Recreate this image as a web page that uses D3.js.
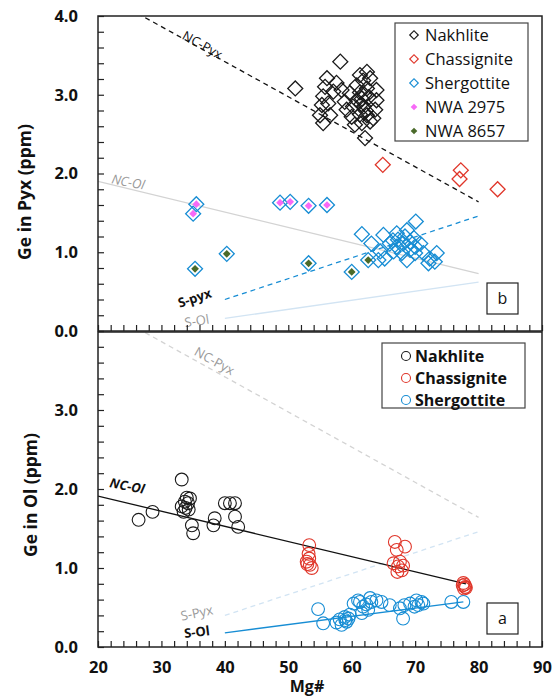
<!DOCTYPE html>
<html><head><meta charset="utf-8">
<script src="https://cdn.jsdelivr.net/npm/d3@7"></script>
<style>
html,body{margin:0;padding:0;background:#fff;}
svg{display:block;font-family:"Open Sans",Lato,sans-serif;}
</style></head>
<body><svg id="chart" width="555" height="696"></svg>
<script>
// ---------- data ----------
const xTickValues = [20,30,40,50,60,70,80,90];
const yTickValuesTop = [0,1,2,3,4];
const yTickValuesBottom = [0,1,2,3];

// Panel b (pyroxene)
const nakhlitePyx = [[58.2,3.42],[51.1,3.08],[56.1,3.21],[57.6,3.15],[55.8,3.10],[55.5,2.98],[56.3,2.89],[55.3,2.87],[55.5,2.64],[56.6,2.74],[55.0,2.74],[57.1,3.04],[58.4,3.06],[58.9,2.91],[59.2,2.81],[59.7,3.02],[60.0,2.72],[60.5,2.62],[62.1,2.45],[61.3,3.25],[62.4,3.29],[62.9,3.21],[63.9,3.06],[63.9,2.93],[63.7,2.81],[63.4,2.70],[61.3,3.03],[61.6,2.95],[61.9,2.85],[61.3,2.75],[60.8,3.12],[60.8,2.93],[60.2,2.85],[62.4,3.08],[62.7,2.97],[62.4,2.74],[62.9,2.66],[61.6,2.64],[61.8,3.18],[62.0,3.00],[61.5,2.88],[62.2,2.80]];
const chassignitePyx = [[64.9,2.11],[77.2,2.04],[77.0,1.93],[83.0,1.80]];
const shergottitePyx = [[61.6,1.23],[70.1,1.39],[63.1,1.11],[65.0,1.22],[67.1,1.24],[68.7,1.28],[66.0,1.11],[67.3,1.16],[68.1,1.11],[69.2,1.13],[70.0,1.07],[70.8,1.11],[64.5,1.01],[65.2,0.92],[64.2,0.90],[66.6,1.01],[67.9,0.99],[68.7,0.90],[71.3,0.99],[72.3,0.92],[73.4,0.99],[72.1,0.86],[73.1,0.88],[69.2,1.03],[70.0,0.99],[67.1,1.07],[68.4,1.20],[66.5,1.15],[69.8,1.18]];
const nwa2975 = [[35.5,1.61],[35.0,1.49],[48.7,1.63],[50.3,1.64],[53.2,1.59],[56.1,1.60]];
const nwa8657 = [[35.3,0.79],[40.3,0.98],[53.2,0.86],[60.0,0.75],[62.6,0.90]];

// Panel a (olivine)
const nakhliteOl = [[26.4,1.61],[28.6,1.71],[33.2,2.12],[33.7,1.84],[33.2,1.78],[33.5,1.71],[34.2,1.82],[34.5,1.88],[34.0,1.89],[33.8,1.76],[34.3,1.74],[34.8,1.54],[35.0,1.44],[38.4,1.63],[38.2,1.54],[40.0,1.82],[40.8,1.82],[41.6,1.82],[41.6,1.65],[42.1,1.52]];
const chassigniteOl = [[53.3,1.29],[53.2,1.18],[53.3,1.12],[52.9,1.08],[53.4,1.04],[53.7,1.00],[53.0,1.05],[66.8,1.33],[68.4,1.27],[67.1,1.23],[66.6,1.06],[67.6,1.08],[67.3,1.02],[67.9,0.97],[67.2,0.95],[68.1,1.03],[77.6,0.81],[77.9,0.76],[77.5,0.78],[77.7,0.74],[78.0,0.75],[77.8,0.79]];
const shergottiteOl = [[54.7,0.48],[55.5,0.30],[57.6,0.31],[58.1,0.35],[58.9,0.38],[59.2,0.32],[59.7,0.41],[58.4,0.28],[59.0,0.34],[59.5,0.36],[60.3,0.55],[61.0,0.59],[61.3,0.57],[61.8,0.51],[62.3,0.54],[62.9,0.62],[63.1,0.57],[62.6,0.47],[61.6,0.43],[63.9,0.59],[64.7,0.57],[66.0,0.53],[67.6,0.49],[68.1,0.36],[68.3,0.53],[69.2,0.55],[70.2,0.59],[70.5,0.53],[71.0,0.57],[71.3,0.55],[69.9,0.51],[75.7,0.57],[77.6,0.57]];

// Trend lines (endpoints)
const ncPyxLine = [[20,4.31],[80,1.64]];
const ncOlLineTop = [[20,1.90],[80,0.73]];
const ncOlLineBottom = [[20,1.91],[78,0.80]];
const sPyxLine = [[40,0.40],[80,1.46]];
const sOlLineTop = [[40,0.16],[80,0.62]];
const sOlLineBottom = [[40,0.18],[77.6,0.57]];

const legendTopLabels = ["Nakhlite","Chassignite","Shergottite","NWA 2975","NWA 8657"];
const legendBottomLabels = ["Nakhlite","Chassignite","Shergottite"];

// ---------- styles ----------
const C = {nak:"#1a1a1a", chas:"#e0362a", sher:"#178dd4", nwa2975:"#f76af7", nwa8657:"#4a6a2a",
           gray:"#d3d3d3", grayText:"#9a9a9a", paleBlue:"#d2e4f3"};

const svg = d3.select("#chart");
const L = 98, R = 542;
const x = d3.scaleLinear().domain([20,90]).range([L,R]);
const yTop = d3.scaleLinear().domain([0,4]).range([331,16]);
const yBot = d3.scaleLinear().domain([0,4]).range([647,331]);

const defs = svg.append("defs");
defs.append("clipPath").attr("id","clipTop").append("rect").attr("x",L).attr("y",16).attr("width",R-L).attr("height",331-16);
defs.append("clipPath").attr("id","clipBot").append("rect").attr("x",L).attr("y",331).attr("width",R-L).attr("height",647-331);

function drawLine(g, y, pts, color, dash, w){
  g.append("path").datum(pts)
    .attr("d", d3.line().x(d=>x(d[0])).y(d=>y(d[1])))
    .attr("fill","none").attr("stroke",color).attr("stroke-width",w||1.3)
    .attr("stroke-dasharray", dash ? "5,4" : null);
}
function label(g, px, py, rot, text, color, opts){
  opts = opts||{};
  g.append("text").attr("transform",`translate(${px},${py}) rotate(${rot})`)
    .attr("text-anchor","middle").attr("dominant-baseline","middle")
    .attr("font-size", opts.size||12).attr("font-weight", opts.bold?"bold":"normal")
    .attr("font-style", opts.italic?"italic":"normal")
    .attr("fill", color).text(text);
}

const diamond = d3.symbol().type(d3.symbolSquare).size(112);
const diamondSmall = d3.symbol().type(d3.symbolSquare).size(30);

// ---------- panel b (top) ----------
const gT = svg.append("g").attr("clip-path","url(#clipTop)");
drawLine(gT, yTop, ncOlLineTop, C.gray, false, 1.3);
drawLine(gT, yTop, sOlLineTop, C.paleBlue, false, 1.3);
drawLine(gT, yTop, ncPyxLine, "#111", true, 1.3);
drawLine(gT, yTop, sPyxLine, C.sher, true, 1.3);

function diamonds(g, data, color){
  g.selectAll(null).data(data).enter().append("path")
    .attr("d", diamond)
    .attr("transform", d=>`translate(${x(d[0])},${yTop(d[1])}) rotate(45)`)
    .attr("fill","none").attr("stroke",color).attr("stroke-width",1.3);
}
diamonds(gT, nakhlitePyx, C.nak);
diamonds(gT, chassignitePyx, C.chas);
diamonds(gT, shergottitePyx, C.sher);
diamonds(gT, nwa2975, C.sher);
diamonds(gT, nwa8657, C.sher);
function filled(g, data, color){
  g.selectAll(null).data(data).enter().append("path")
    .attr("d", diamondSmall)
    .attr("transform", d=>`translate(${x(d[0])},${yTop(d[1])}) rotate(45)`)
    .attr("fill",color).attr("stroke","none");
}
filled(gT, nwa2975, C.nwa2975);
filled(gT, nwa8657, C.nwa8657);

label(svg, 202, 46, 29, "NC-Pyx", "#111", {size:13});
label(svg, 128, 183, 11, "NC-Ol", C.grayText, {size:13, italic:true});
label(svg, 195, 299, -18, "S-pyx", "#111", {size:13, bold:true});
label(svg, 197, 322, -9, "S-Ol", C.grayText, {size:13});

// ---------- panel a (bottom) ----------
const gB = svg.append("g").attr("clip-path","url(#clipBot)");
drawLine(gB, yBot, ncPyxLine, C.gray, true, 1.3);
drawLine(gB, yBot, sPyxLine, C.paleBlue, true, 1.3);
drawLine(gB, yBot, ncOlLineBottom, "#111", false, 1.3);
drawLine(gB, yBot, sOlLineBottom, C.sher, false, 1.3);

function circles(g, data, color){
  g.selectAll(null).data(data).enter().append("circle")
    .attr("cx", d=>x(d[0])).attr("cy", d=>yBot(d[1])).attr("r",6.4)
    .attr("fill","none").attr("stroke",color).attr("stroke-width",1.1);
}
circles(gB, nakhliteOl, C.nak);
circles(gB, chassigniteOl, C.chas);
circles(gB, shergottiteOl, C.sher);

label(svg, 214, 362, 29, "NC-Pyx", C.grayText, {size:13});
label(svg, 127, 487, 11, "NC-Ol", "#111", {size:13, bold:true, italic:true});
label(svg, 197, 614, -12, "S-Pyx", C.grayText, {size:13});
label(svg, 197, 633, -7, "S-Ol", "#111", {size:13, bold:true});

// ---------- axes ----------
const minorX = d3.range(20, 90.01, 2);
const minorY = d3.range(0, 4.001, 0.2);

function yAxis(y, ticks){
  const g = svg.append("g").attr("transform",`translate(${L},0)`)
    .call(d3.axisLeft(y).tickValues(minorY).tickSize(-6).tickFormat(""));
  g.select(".domain").remove();
  g.selectAll("line").attr("stroke","#222").attr("stroke-width",1.2);
  const gl = svg.append("g").attr("transform",`translate(${L},0)`)
    .call(d3.axisLeft(y).tickValues(ticks).tickSize(0).tickPadding(20).tickFormat(d3.format(".1f")));
  gl.select(".domain").remove();
  gl.selectAll("text").attr("font-family","'Open Sans',sans-serif").attr("font-size",16.5).attr("font-weight","bold").attr("fill","#111");
}
yAxis(yTop, yTickValuesTop);
yAxis(yBot, yTickValuesBottom);

function xAxis(yPos, withLabels){
  const g = svg.append("g").attr("transform",`translate(0,${yPos})`)
    .call(d3.axisBottom(x).tickValues(minorX).tickSize(-6).tickFormat(""));
  g.select(".domain").remove();
  g.selectAll("line").attr("stroke","#222").attr("stroke-width",1.2);
  if(withLabels){
    const gl = svg.append("g").attr("transform",`translate(0,${yPos})`)
      .call(d3.axisBottom(x).tickValues(xTickValues).tickSize(0).tickPadding(14).tickFormat(d3.format("d")));
    gl.select(".domain").remove();
    gl.selectAll("text").attr("font-family","'Open Sans',sans-serif").attr("font-size",16.5).attr("font-weight","bold").attr("fill","#111");
  }
}
xAxis(331, false);
xAxis(647, true);

// frames
svg.append("rect").attr("x",L).attr("y",16).attr("width",R-L).attr("height",331-16)
  .attr("fill","none").attr("stroke","#222").attr("stroke-width",1.5);
svg.append("rect").attr("x",L).attr("y",332).attr("width",R-L).attr("height",647-332)
  .attr("fill","none").attr("stroke","#222").attr("stroke-width",1.5);

// axis titles
svg.append("text").attr("transform","translate(31,192) rotate(-90)").attr("text-anchor","middle")
  .attr("font-size",17.5).attr("font-weight","bold").attr("fill","#111").text("Ge in Pyx (ppm)");
svg.append("text").attr("transform","translate(37,495) rotate(-90)").attr("text-anchor","middle")
  .attr("font-size",17.5).attr("font-weight","bold").attr("fill","#111").text("Ge in Ol (ppm)");
svg.append("text").attr("x",307).attr("y",692).attr("text-anchor","middle")
  .attr("font-size",16).attr("font-weight","bold").attr("fill","#111").text("Mg#");

// panel letters
function letterBox(x0,y0,t){
  svg.append("rect").attr("x",x0).attr("y",y0).attr("width",31).attr("height",31)
    .attr("fill","#fff").attr("stroke","#222").attr("stroke-width",1.2);
  svg.append("text").attr("x",x0+15.5).attr("y",y0+21).attr("text-anchor","middle")
    .attr("font-size",16).attr("fill","#111").text(t);
}
letterBox(487,283,"b");
letterBox(487,603,"a");

// legends
const lt = svg.append("g");
lt.append("rect").attr("x",395).attr("y",23).attr("width",133).attr("height",118)
  .attr("fill","#fff").attr("stroke","#444").attr("stroke-width",1.2);
const ltColors = [C.nak, C.chas, C.sher, C.nwa2975, C.nwa8657];
const ltSmall = d3.symbol().type(d3.symbolSquare).size(22);
const ltBig = d3.symbol().type(d3.symbolSquare).size(36);
legendTopLabels.forEach((t,i)=>{
  const yy = 35 + i*24;
  if(i<3){
    lt.append("path").attr("d",ltBig).attr("transform",`translate(414,${yy}) rotate(45)`)
      .attr("fill","none").attr("stroke",ltColors[i]).attr("stroke-width",1.2);
  } else {
    lt.append("path").attr("d",ltSmall).attr("transform",`translate(414,${yy}) rotate(45)`)
      .attr("fill",ltColors[i]);
  }
  lt.append("text").attr("x",425).attr("y",yy+6).attr("font-size",16.5).attr("fill","#111").text(t);
});

const lb = svg.append("g");
lb.append("rect").attr("x",382).attr("y",343).attr("width",143).attr("height",65)
  .attr("fill","#fff").attr("stroke","#444").attr("stroke-width",1.2);
const lbColors = [C.nak, C.chas, C.sher];
legendBottomLabels.forEach((t,i)=>{
  const yy = 356 + i*22;
  lb.append("circle").attr("cx",406).attr("cy",yy).attr("r",4.5)
    .attr("fill","none").attr("stroke",lbColors[i]).attr("stroke-width",1.1);
  lb.append("text").attr("x",415).attr("y",yy+6).attr("font-size",16).attr("font-weight","bold").attr("fill","#111").text(t);
});
</script></body></html>
